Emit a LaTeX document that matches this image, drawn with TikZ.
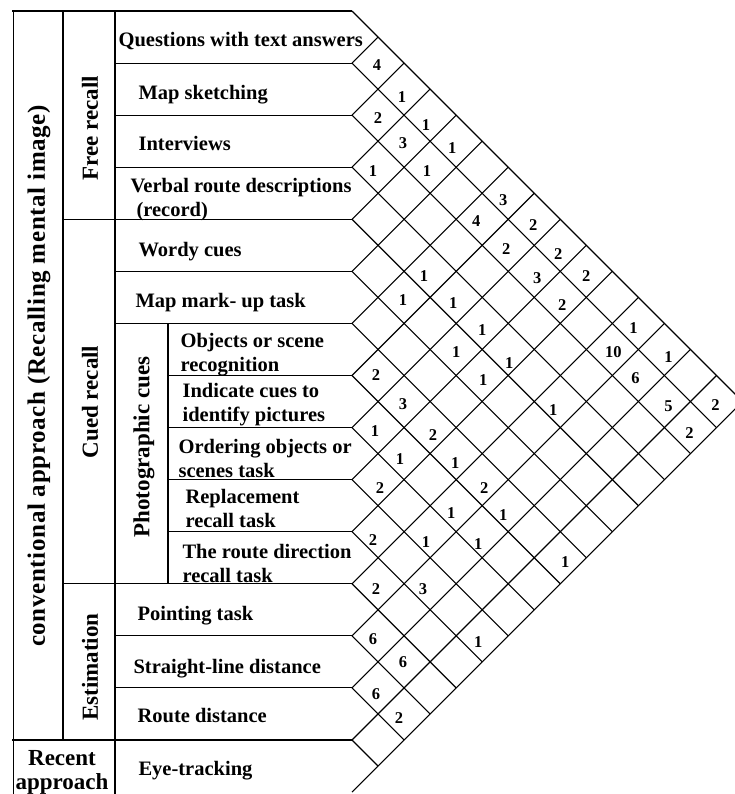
\documentclass[tikz,border=0pt]{standalone}
\usepackage{fontspec}
\setmainfont{Liberation Serif}
\begin{document}
\begin{tikzpicture}[x=1pt, y=-1pt, line width=1.1pt,
	methodText/.style={anchor=base west, inner sep=0pt, align=left, font=\fontsize{20.5}{24}\selectfont\bfseries},
	groupText/.style={rotate=90, inner sep=0pt, font=\fontsize{23}{24}\selectfont\bfseries},
	cellNum/.style={inner sep=0pt, font=\fontsize{16.5}{17}\selectfont\bfseries}]
		\clip (0,0) rectangle (735,794);

		\draw[double, double distance=1.6pt, line width=0.7pt] (12,11) -- (12,800);
		\draw (63,11) -- (63,739.98);
		\draw (115,11) -- (115,800);
		\draw (168,323.42) -- (168,583.77);
		\foreach \k/\xs in {0/12, 1/115, 2/115, 3/115, 4/63, 5/115, 6/115, 7/168, 8/168, 9/168, 10/168, 11/63, 12/115, 13/115, 14/12}
			\draw (\xs,{11+\k*52.07}) -- (352,{11+\k*52.07});

		\foreach \k in {0,...,15} {
			\coordinate (edge\k) at (352,{11+\k*52.07});
			\draw (edge\k) -- ++({(15-\k)*26.035},{(15-\k)*26.035});
			\draw (edge\k) -- ++({\k*26.035},{-\k*26.035});
		}

		\node[groupText, font=\fontsize{25}{26}\selectfont\bfseries\addfontfeature{LetterSpace=2.5}](conventionalLabel) at (39,376){conventional approach (Recalling mental image)};
		\node[groupText](freeLabel)       at (90,128){Free recall};
		\node[groupText](cuedLabel)       at (90,402){Cued recall};
		\node[groupText](photoLabel)      at (144,447){Photographic cues};
		\node[groupText](estimationLabel) at (90,667){Estimation};
		\node[inner sep=0pt, anchor=north, align=center, font=\fontsize{23}{24}\selectfont\bfseries](recentLabel) at (62,750){Recent\\approach};

		\node[methodText](questionsText) at (118,47){Questions with text answers};
		\node[methodText](sketchText)    at (138,100){Map sketching};
		\node[methodText](interviewText) at (138,151){Interviews};
		\node[methodText](verbalText)    at (130,217){Verbal route descriptions\\\hspace*{6pt}(record)};
		\node[methodText](wordyText)     at (138,256){Wordy cues};
		\node[methodText](markupText)    at (135,307){Map mark- up task};
		\node[methodText](objectsText)   at (180,371){Objects or scene\\recognition};
		\node[methodText](indicateText)  at (182,421){Indicate cues to\\identify pictures};
		\node[methodText](orderingText)  at (178,477){Ordering objects or\\scenes task};
		\node[methodText](replaceText)   at (185,527){Replacement\\recall task};
		\node[methodText](directionText) at (182,582){The route direction\\recall task};
		\node[methodText](pointingText)  at (137,620){Pointing task};
		\node[methodText](straightText)  at (133,673){Straight-line distance};
		\node[methodText](routeText)     at (137,722){Route distance};
		\node[methodText](eyeText)       at (138,775){Eye-tracking};

		\foreach \i/\j/\v/\dx/\dy in {1/2/4/-1/2, 1/3/1/-2/8, 2/3/2/0/3, 1/4/1/-4/10, 2/4/3/-1/2, 1/5/1/-4/7, 3/4/1/-5/4, 2/5/1/-3/4,
				1/7/3/-5/7, 2/7/4/-6/2, 1/8/2/-1/6, 2/8/2/-2/4, 1/9/2/-2/9, 4/7/1/-6/5, 2/9/3/3/7, 1/10/2/0/5,
				5/7/1/-1/3, 4/8/1/-3/6, 2/10/2/2/8, 4/9/1/0/7, 1/12/1/-5/5, 5/9/1/0/3, 2/12/10/1/3, 1/13/1/4/8,
				4/10/1/1/14, 7/8/2/-2/0, 5/10/1/1/5, 2/13/6/-3/3, 7/9/3/-1/3, 4/12/1/-7/9, 2/14/5/4/5, 1/15/2/-1/4,
				8/9/1/-3/3, 7/10/2/3/7, 2/15/2/-1/5, 8/10/1/-4/5, 7/11/1/-1/9, 9/10/2/2/8, 7/12/2/2/8, 8/12/1/-5/7,
				7/13/1/-5/9, 10/11/2/-5/8, 9/12/1/-4/10, 8/13/1/-4/12, 7/15/1/5/4, 11/12/2/-2/5, 10/13/3/-7/5,
				12/13/6/-5/3, 10/15/1/-4/6, 12/14/6/-1/0, 13/14/6/-2/6, 13/15/2/-5/4}
			\node[cellNum](cell\i-\j) at ({352+(\j-\i)*26.035+\dx},{11+(\i+\j-1)*26.035+\dy}){\v};
\end{tikzpicture}
\end{document}
